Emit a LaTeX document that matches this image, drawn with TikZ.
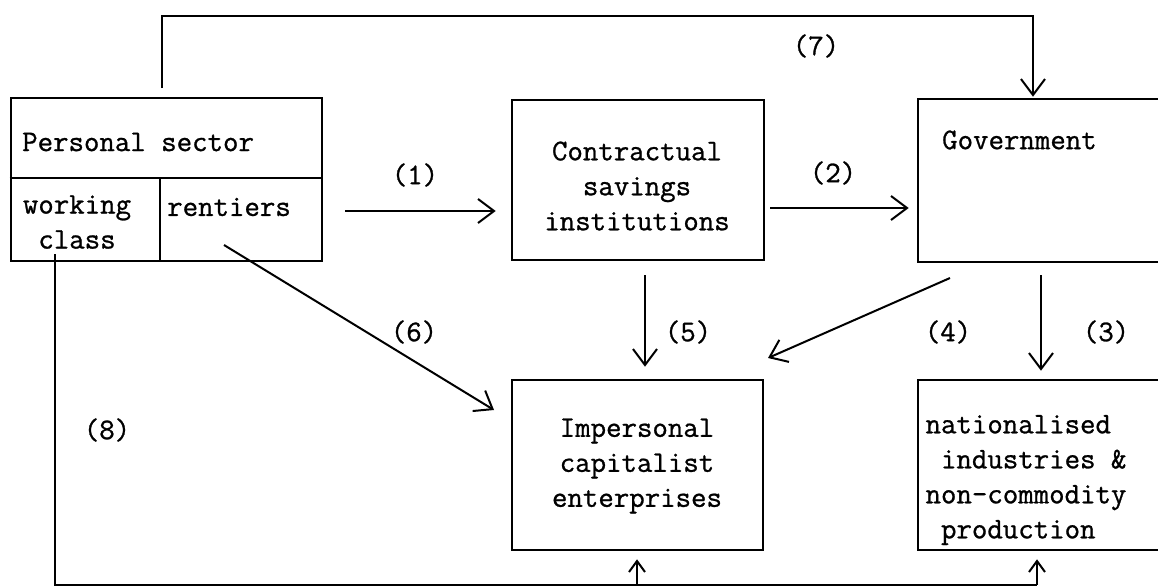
\documentclass[tikz,border=0pt]{standalone}
\usepackage{fontspec}
\setmonofont[FakeBold=0.9]{Latin Modern Mono}
\usetikzlibrary{arrows.meta}
\begin{document}
\begin{tikzpicture}[x=1pt,y=-1pt,
  box/.style={draw, line width=2.6pt, inner sep=0pt},
  boxline/.style={line width=2.6pt},
  txt/.style={font=\fontsize{30}{35}\selectfont\ttfamily, inner sep=0pt},
  lbl/.style={font=\fontsize{30}{35}\selectfont\ttfamily, inner sep=0pt},
  conn/.style={line width=2pt},
  arr/.style={line width=2pt, -{Straight Barb[length=16pt,width=24pt,line width=2pt]}},
  arrsmall/.style={line width=2pt, -{Straight Barb[length=11pt,width=16pt,line width=2pt]}}]
\useasboundingbox (0,0) rectangle (1158,587);
\clip (0,0) rectangle (1158,587);
\fill[white] (0,0) rectangle (1158,587);

% Personal sector
\node[box, minimum width=311pt, minimum height=163pt] (ps) at (166.5,179.5) {};
\coordinate (divy) at (0,178);
\coordinate (divx) at (160,0);
\draw[boxline] (ps.west |- divy) -- (ps.east |- divy);
\draw[boxline] (divx |- divy) -- (divx |- ps.south);
\node[txt, anchor=west] (pst) at (22,142) {Personal sector};
\node[txt, align=center] (wc) at (77,222) {working\\class};
\node[txt, anchor=west] (rt) at (167,207) {rentiers};

% Contractual savings institutions
\node[box, minimum width=252pt, minimum height=160pt] (csi) at (638,180) {};
\node[txt, align=center] (csit) at (637,186) {Contractual\\savings\\institutions};

% Government
\node[box, minimum width=260pt, minimum height=163pt] (gov) at (1048,180.5) {};
\node[txt, anchor=west] (govt) at (942,140) {Government};

% Impersonal capitalist enterprises
\node[box, minimum width=251pt, minimum height=170pt] (ice) at (637.5,465) {};
\node[txt, align=center] (icet) at (637,466) {Impersonal\\capitalist\\enterprises};

% nationalised industries
\node[box, minimum width=260pt, minimum height=170pt] (nat) at (1048,465) {};
\node[txt, align=left] (natt) at (1026,480) {nationalised\\\hphantom{x}industries \&\\non-commodity\\\hphantom{x}production};

% (1)
\coordinate (a1s) at (345,211);
\draw[arr, shorten >=15pt] (a1s) -- (a1s -| csi.west);
\node[lbl] (l1) at (415,175) {(1)};
% (2)
\coordinate (a2s) at (770,208);
\draw[arr, shorten >=8pt] (a2s) -- (a2s -| gov.west);
\node[lbl] (l2) at (833,173) {(2)};
% (7)
\coordinate (a7s) at (162,88);
\coordinate (a7a) at (162,16);
\coordinate (a7b) at (1033,16);
\draw[arr, shorten >=1pt] (a7s) -- (a7a) -- (a7b) -- (a7b |- gov.north);
\node[lbl] (l7) at (816,46) {(7)};
% (5)
\coordinate (a5s) at (645,275);
\draw[arr, shorten >=12pt] (a5s) -- (a5s |- ice.north);
\node[lbl] (l5) at (688,332) {(5)};
% (3)
\coordinate (a3s) at (1041,275);
\draw[arr, shorten >=8pt] (a3s) -- (a3s |- nat.north);
\node[lbl] (l3) at (1106,332) {(3)};
% (4)
\coordinate (a4s) at (950,278);
\coordinate (a4e) at (768,358);
\draw[arr] (a4s) -- (a4e);
\node[lbl] (l4) at (948,332) {(4)};
% (6)
\coordinate (a6s) at (224,245);
\coordinate (a6e) at (494,410);
\draw[arr] (a6s) -- (a6e);
\node[lbl] (l6) at (414,332) {(6)};
% (8)
\coordinate (a8s) at (55,254);
\coordinate (a8c) at (55,585);
\coordinate (a8r) at (1037,585);
\coordinate (a8m) at (637,585);
\draw[conn] (a8s) -- (a8c) -- (a8r);
\draw[arrsmall, shorten >=8pt] (a8m) -- (a8m |- ice.south);
\draw[arrsmall, shorten >=8pt] (a8r) -- (a8r |- nat.south);
\node[lbl] (l8) at (107,430) {(8)};
\end{tikzpicture}
\end{document}
